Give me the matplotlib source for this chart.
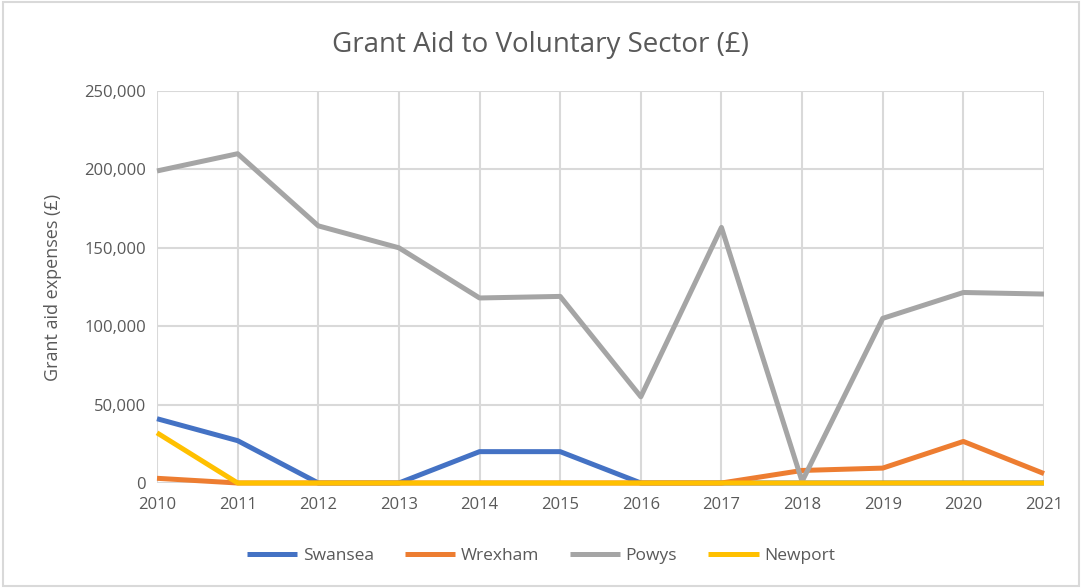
import matplotlib.pyplot as plt
from matplotlib.ticker import FuncFormatter
from matplotlib.patches import Rectangle

years = [2010, 2011, 2012, 2013, 2014, 2015, 2016, 2017, 2018, 2019, 2020, 2021]
swansea = [41000, 27000, 0, 0, 20000, 20000, 0, 0, 0, 0, 0, 0]
wrexham = [3000, 0, 0, 0, 0, 0, 0, 0, 8000, 9500, 26500, 6000]
powys = [199000, 210000, 164000, 150000, 118000, 119000, 55000, 163000, 1000, 105000, 121500, 120500]
newport = [32000, 0, 0, 0, 0, 0, 0, 0, 0, 0, 0, 0]

series = [("Swansea", swansea, "#4472C4"),
          ("Wrexham", wrexham, "#ED7D31"),
          ("Powys", powys, "#A5A5A5"),
          ("Newport", newport, "#FFC000")]

plt.rcParams['font.family'] = ['Open Sans', 'DejaVu Sans']

fig = plt.figure(figsize=(10.82, 5.88), dpi=100)
ax = fig.add_axes([157/1082, 1-483/588, (1044-157)/1082, (483-91)/588])

for name, vals, col in series:
  ax.plot(years, vals, color=col, linewidth=3.6, label=name, solid_capstyle='butt',
          zorder=3, clip_on=False)

ax.set_xlim(years[0], years[-1])
ax.set_ylim(0, 250000)
ax.set_yticks(range(0, 250001, 50000))
ax.yaxis.set_major_formatter(FuncFormatter(lambda v, p: "{:,.0f}".format(v)))
ax.set_xticks(years)
ax.grid(True, color="#D9D9D9", linewidth=1.5, zorder=0)
for s in ax.spines.values():
  s.set_visible(False)
ax.tick_params(length=0, labelsize=12, labelcolor="#595959", pad=8)
ax.tick_params(axis='x', pad=10)
ax.set_ylabel("Grant aid expenses (£)", fontsize=13, color="#595959", labelpad=16)

fig.text(0.5, 1-45/588, "Grant Aid to Voluntary Sector (£)", ha='center', va='center',
         fontsize=20, color="#595959")

leg = fig.legend(loc='center', bbox_to_anchor=(0.5, 1-556/588), ncol=4, frameon=False,
                 fontsize=12.5, handlelength=2.9, columnspacing=1.8, handletextpad=0.3)
for t in leg.get_texts():
  t.set_color("#595959")

fig.patches.append(Rectangle((0.003, 0.003), 0.994, 0.994, transform=fig.transFigure,
                             fill=False, edgecolor="#D9D9D9", linewidth=1.5))

plt.savefig("out.png", dpi=100)
